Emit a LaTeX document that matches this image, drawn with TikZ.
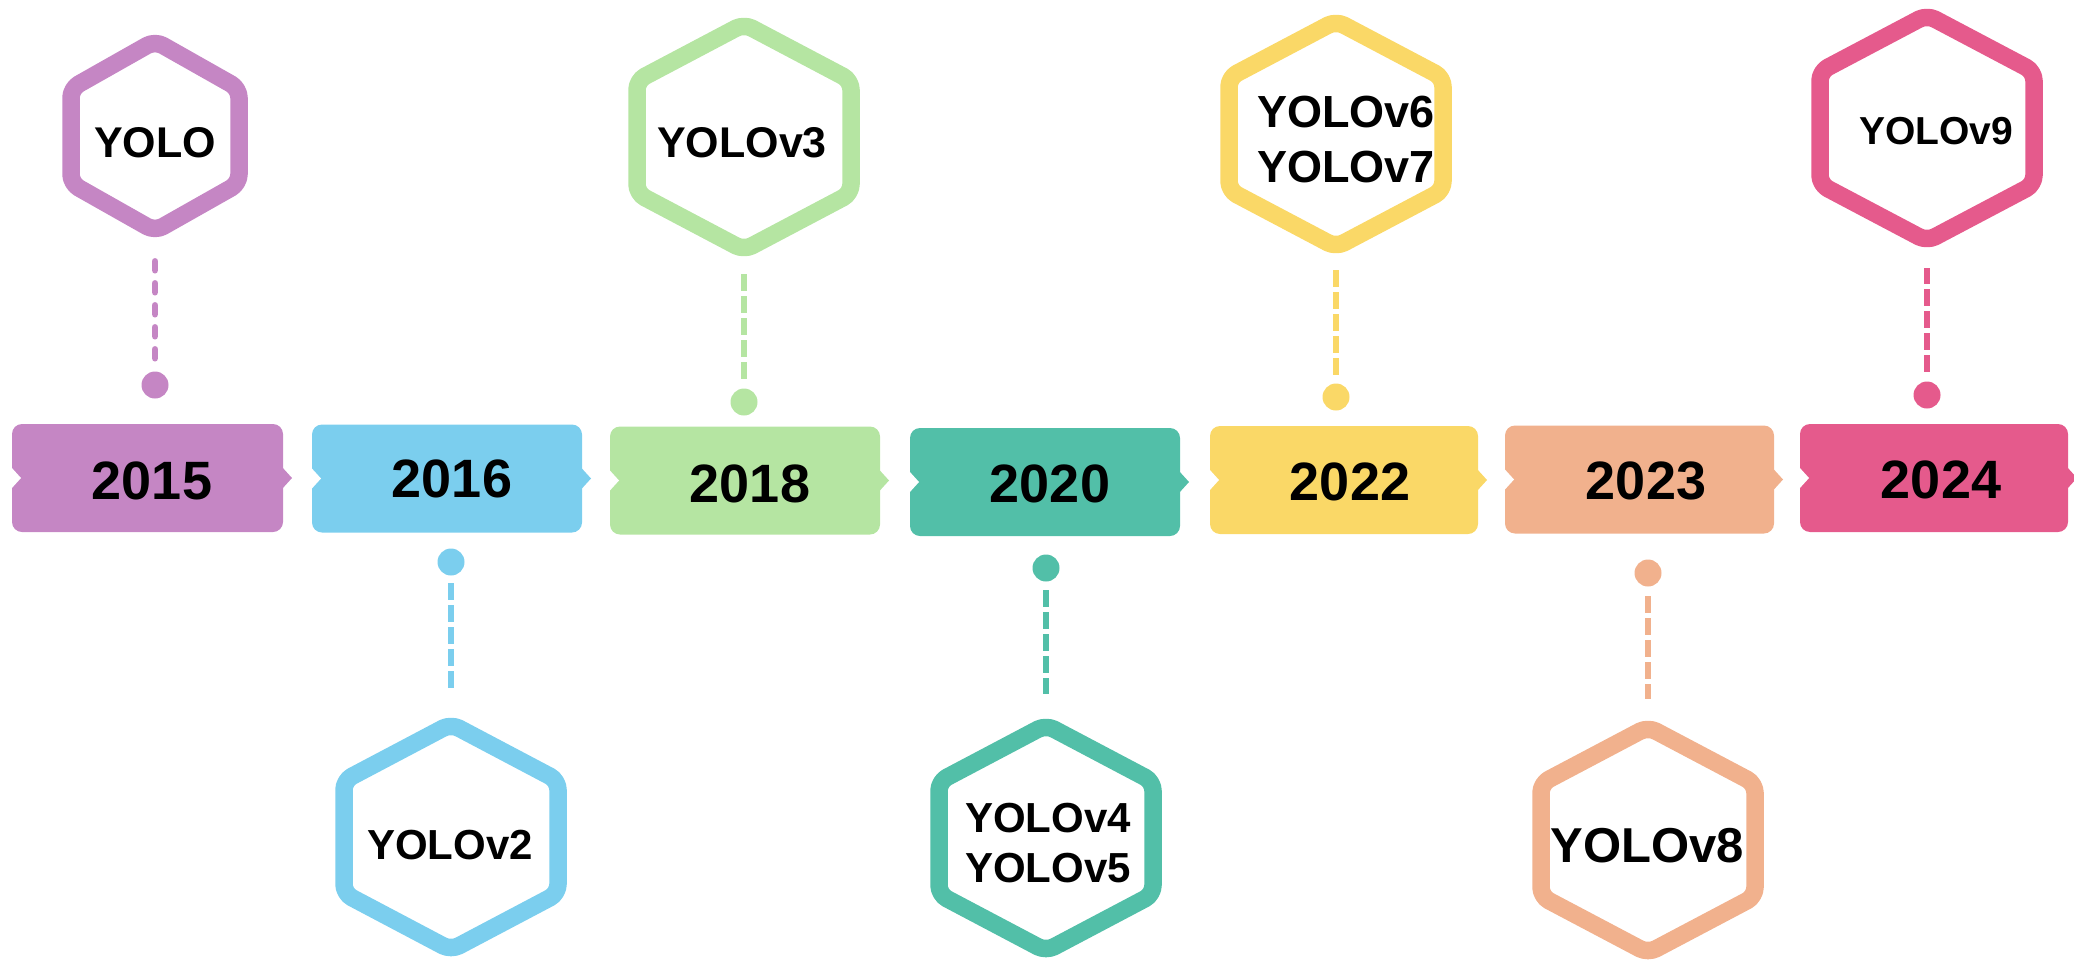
\documentclass[tikz,border=0pt]{standalone}
\usepackage{fontspec}
\setmainfont{Liberation Sans}
\usetikzlibrary{calc}
\definecolor{cpur}{HTML}{C586C4}
\definecolor{cblu}{HTML}{7BCEEE}
\definecolor{cgrn}{HTML}{B5E5A2}
\definecolor{ctea}{HTML}{52BFA8}
\definecolor{cyel}{HTML}{FAD867}
\definecolor{csal}{HTML}{F1B18D}
\definecolor{cpnk}{HTML}{E55A8C}
\tikzset{
  pics/hexa/.style args={#1/#2/#3}{code={
    \draw[line width=17.5pt, line join=round, rounded corners=9pt, draw=#3]
      (0,-#2) -- (#1,-#2/2) -- (#1,#2/2) -- (0,#2) -- (-#1,#2/2) -- (-#1,-#2/2) -- cycle;
  }},
  pics/banner/.style args={#1/#2/#3}{code={
    \fill[#3, rounded corners=10pt] (-#1/2,-#2/2) rectangle (#1/2,#2/2);
    \fill[#3] (#1/2-1,-11) -- (#1/2+9,0) -- (#1/2-1,11) -- cycle;
    \fill[white] (-#1/2-1,-11) -- (-#1/2+9,0) -- (-#1/2-1,11) -- cycle;
  }},
  yeartext/.style={inner sep=0pt, font=\bfseries\fontsize{54}{60}\selectfont},
  hextext/.style={inner sep=0pt, align=center, font=\bfseries\fontsize{#1}{#1}\selectfont},
  dotnode/.style={circle, fill=#1, minimum size=27pt, inner sep=0pt},
  dashline/.style={line width=6pt, dash pattern=on 17pt off 5pt, draw=#1},
  rounddash/.style={line width=6.5pt, line cap=round, dash pattern=on 9pt off 13pt, draw=#1},
}
\begin{document}
\begin{tikzpicture}[x=1pt,y=-1pt]
\useasboundingbox (0,0) rectangle (2074,961);

% banners
\pic at (147.5,478) {banner=271/108/cpur};
\pic at (447,478.5) {banner=270/108/cblu};
\pic at (745,480.5) {banner=270/108/cgrn};
\pic at (1045,482) {banner=270/108/ctea};
\pic at (1344,480) {banner=268/108/cyel};
\pic at (1639.5,479.5) {banner=269/108/csal};
\pic at (1934,478) {banner=268/108/cpnk};

\node[yeartext] (y15) at (152,481) {2015};
\node[yeartext] (y16) at (452,479) {2016};
\node[yeartext] (y18) at (750,484) {2018};
\node[yeartext] (y20) at (1050,484) {2020};
\node[yeartext] (y22) at (1350,482) {2022};
\node[yeartext] (y23) at (1646,481) {2023};
\node[yeartext] (y24) at (1941,480) {2024};

% hexagon centres
\coordinate (c15) at (155,136);
\coordinate (c16) at (451,837);
\coordinate (c18) at (744,137);
\coordinate (c20) at (1046,838);
\coordinate (c22) at (1336,134);
\coordinate (c23) at (1648,840);
\coordinate (c24) at (1927,128);

\pic at (c15) {hexa=84/95/cpur};
\pic at (c16) {hexa=107/113/cblu};
\pic at (c18) {hexa=107/113/cgrn};
\pic at (c20) {hexa=107/113/ctea};
\pic at (c22) {hexa=107/113/cyel};
\pic at (c23) {hexa=107/113/csal};
\pic at (c24) {hexa=107/113/cpnk};

\node[hextext=43] (t15) at (155,143) {YOLO};
\node[hextext=42] (t16) at (450,845) {YOLOv2};
\node[hextext=43] (t18) at (742,143) {YOLOv3};
\node[hextext=42, font=\bfseries\fontsize{42}{50}\selectfont] (t20) at (1048,843) {YOLOv4\\YOLOv5};
\node[hextext=45, font=\bfseries\fontsize{45}{55}\selectfont] (t22) at (1346,140) {YOLOv6\\YOLOv7};
\node[hextext=49] (t23) at (1647,846) {YOLOv8};
\node[hextext=39] (t24) at (1936,131) {YOLOv9};

% dots
\node[dotnode=cpur] (d15) at (155,385) {};
\node[dotnode=cblu] (d16) at (451,562) {};
\node[dotnode=cgrn] (d18) at (744,402) {};
\node[dotnode=ctea] (d20) at (1046,568) {};
\node[dotnode=cyel] (d22) at (1336,397) {};
\node[dotnode=csal] (d23) at (1648,573) {};
\node[dotnode=cpnk] (d24) at (1927,395) {};

% connectors
\draw[rounddash=cpur, shorten <=13pt, shorten >=125pt] (d15) -- (c15);
\draw[dashline=cgrn, shorten <=9.5pt, shorten >=137pt] (d18) -- (c18);
\draw[dashline=cyel, shorten <=8.5pt, shorten >=136pt] (d22) -- (c22);
\draw[dashline=cpnk, shorten <=9.5pt, shorten >=140pt] (d24) -- (c24);
\draw[dashline=cblu, shorten <=7.5pt, shorten >=149pt] (d16) -- (c16);
\draw[dashline=ctea, shorten <=8.5pt, shorten >=144pt] (d20) -- (c20);
\draw[dashline=csal, shorten <=9.5pt, shorten >=141pt] (d23) -- (c23);
\end{tikzpicture}
\end{document}
